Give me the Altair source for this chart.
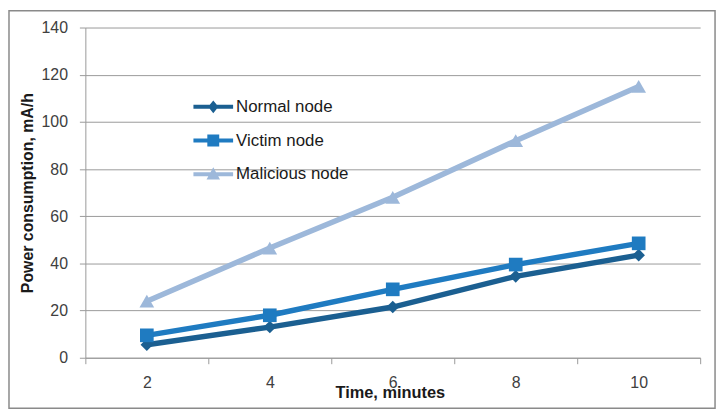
import altair as alt
import pandas as pd

# ---- data ----
times = ["2", "4", "6", "8", "10"]
series_names = ["Normal node", "Victim node", "Malicious node"]
normal = [5.5, 13, 21.5, 34.5, 43.5]
victim = [9.5, 18, 29, 39.5, 48.5]
malicious = [24, 46.5, 68, 92, 115]
y_ticks = [0, 20, 40, 60, 80, 100, 120, 140]

colors = ["#1b5f91", "#1f7bc1", "#9db8da"]
shapes = ["diamond", "square", "triangle-up"]
marker_sizes = [160, 220, 300]
# legend symbols: line segment + marker (custom paths in the -1..1 box)
legend_paths = [
    "M-1,-0.1H1V0.1H-1Z M0,-0.32L0.26,0L0,0.32L-0.26,0Z",
    "M-1,-0.1H1V0.1H-1Z M-0.3,-0.3H0.3V0.3H-0.3Z",
    "M-1,-0.1H1V0.1H-1Z M0,-0.36L0.34,0.26H-0.34Z",
]

rows = []
for name, vals in zip(series_names, [normal, victim, malicious]):
    for i, (t, v) in enumerate(zip(times, vals)):
        rows.append({"time": t, "idx": i, "series": name, "power": v})
df = pd.DataFrame(rows)

FONT = "Liberation Sans"
GRID = "#9a9a9a"

legend = alt.Legend(
    title=None,
    orient="none",
    legendX=109,
    legendY=60,
    padding=0,
    rowPadding=6,
    labelFont=FONT,
    labelFontSize=17,
    labelColor="#1a1a1a",
    labelOffset=3,
    symbolSize=1600,
    symbolStrokeWidth=0,
    symbolOpacity=1,
)

color_scale = alt.Scale(domain=series_names, range=colors)

x_enc = alt.X(
    "time:O",
    sort=times,
    scale=alt.Scale(type="band", paddingInner=0, paddingOuter=0),
    axis=alt.Axis(
        title="Time, minutes",
        titleFont=FONT,
        titleFontSize=16.5,
        titleFontWeight="bold",
        titleColor="#1a1a1a",
        titleX=307,
        titleY=35,
        titleBaseline="middle",
        labelAngle=0,
        labelFont=FONT,
        labelFontSize=16,
        labelColor="#404040",
        labelPadding=11,
        tickBand="extent",
        tickSize=6,
        tickColor=GRID,
        domainColor=GRID,
        grid=False,
    ),
)

y_enc = alt.Y(
    "power:Q",
    scale=alt.Scale(domain=[0, 140], nice=False),
    axis=alt.Axis(
        title="Power consumption, mA/h",
        titleFont=FONT,
        titleFontSize=16,
        titleFontWeight="bold",
        titleColor="#1a1a1a",
        titleX=-58,
        titleY=166.5,
        titleBaseline="middle",
        titleAngle=270,
        values=y_ticks,
        labelFont=FONT,
        labelFontSize=16,
        labelColor="#404040",
        labelPadding=12,
        tickSize=6,
        tickColor=GRID,
        domainColor=GRID,
        gridColor=GRID,
        gridWidth=1,
    ),
)

lines = alt.Chart(df).mark_line(strokeWidth=5.5).encode(
    x=x_enc,
    y=y_enc,
    color=alt.Color("series:N", scale=color_scale, legend=None),
    order=alt.Order("idx:Q"),
)

points = alt.Chart(df).mark_point(filled=True, opacity=1).encode(
    x=x_enc,
    y=y_enc,
    color=alt.Color("series:N", scale=color_scale, legend=None),
    shape=alt.Shape("series:N", scale=alt.Scale(domain=series_names, range=shapes), legend=None),
    size=alt.Size("series:N", scale=alt.Scale(domain=series_names, range=marker_sizes), legend=None),
)

# legend-only layer (no data drawn): line + marker symbols
legend_layer = alt.Chart(df).transform_filter("false").mark_point(
    filled=True, opacity=1, strokeWidth=0
).encode(
    x=x_enc,
    y=y_enc,
    color=alt.Color("series:N", scale=color_scale, sort=series_names, legend=legend),
    shape=alt.Shape("series:N", scale=alt.Scale(domain=series_names, range=legend_paths),
                    sort=series_names, legend=legend),
)

border = alt.Chart(pd.DataFrame({"a": [0]})).mark_rect(
    fillOpacity=0, stroke="#8a8a8a", strokeWidth=1.5
).encode(
    x=alt.value(-77), x2=alt.value(635), y=alt.value(-17), y2=alt.value(384)
)

chart = alt.layer(border, lines, points, legend_layer).resolve_scale(
    color="independent", shape="independent", size="independent"
).resolve_legend(
    color="independent", shape="independent", size="independent"
).properties(
    width=620,
    height=333,
    padding={"left": 78, "top": 18, "right": 20, "bottom": 50},
    autosize=alt.AutoSizeParams(type="none"),
    background="white",
).configure_view(stroke=None)

chart.save("out.html", embed_options={"renderer": "svg", "actions": False})
